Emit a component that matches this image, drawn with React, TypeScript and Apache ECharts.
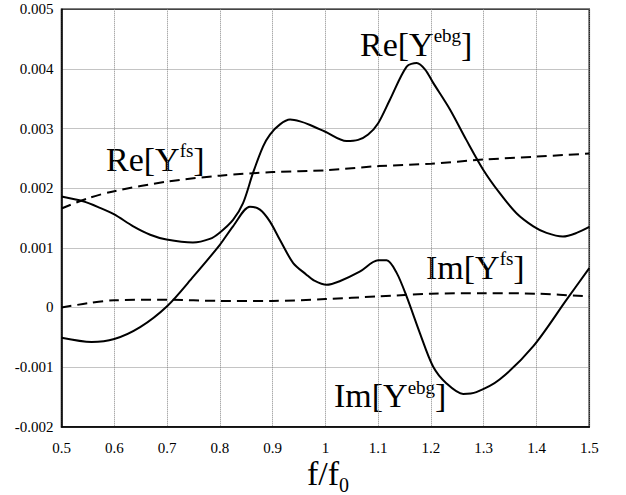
import React, { useEffect, useRef } from "react";
import * as echarts from "echarts";

// x positions (f/f0) and values for each curve
const reEbgX = [0.5, 0.541, 0.573, 0.6, 0.636, 0.668, 0.699, 0.749, 0.781, 0.799, 0.825, 0.844, 0.863, 0.882, 0.895, 0.914, 0.933, 0.952, 0.971, 0.999, 1.04, 1.062, 1.081, 1.1, 1.122, 1.154, 1.173, 1.189, 1.204, 1.236, 1.267, 1.299, 1.33, 1.362, 1.394, 1.419, 1.45, 1.476, 1.5];
const reEbgY = [0.00186, 0.00178, 0.00167, 0.00156, 0.00136, 0.00122, 0.00114, 0.00109, 0.00115, 0.00125, 0.00147, 0.00175, 0.00226, 0.0027, 0.0029, 0.00307, 0.00315, 0.00312, 0.00306, 0.00295, 0.00279, 0.00281, 0.0029, 0.00309, 0.00348, 0.00404, 0.0041, 0.00399, 0.00377, 0.00332, 0.00281, 0.00231, 0.00192, 0.00158, 0.00136, 0.00125, 0.00119, 0.00125, 0.00135];

const imEbgX = [0.5, 0.557, 0.6, 0.649, 0.7, 0.75, 0.8, 0.825, 0.857, 0.876, 0.895, 0.914, 0.939, 0.964, 0.977, 1.002, 1.027, 1.065, 1.1, 1.116, 1.135, 1.154, 1.179, 1.204, 1.229, 1.261, 1.286, 1.33, 1.394, 1.457, 1.5];
const imEbgY = [-0.00051, -0.00058, -0.00053, -0.00033, 0.00002, 0.00052, 0.00105, 0.00136, 0.00169, 0.00164, 0.00144, 0.00113, 0.000745, 0.00055, 0.00046, 0.00038, 0.00044, 0.0006, 0.00079, 0.00079, 0.00058, 0.00018, -0.00043, -0.00099, -0.00127, -0.00145, -0.00142, -0.00121, -0.00065, 0.00013, 0.00066];

const reFsX = [0.5, 0.55, 0.6, 0.7, 0.8, 0.9, 1.0, 1.1, 1.2, 1.3, 1.4, 1.5];
const reFsY = [0.00166, 0.00183, 0.00195, 0.00211, 0.00221, 0.00227, 0.0023, 0.00237, 0.00241, 0.00248, 0.00253, 0.00258];

const imFsX = [0.5, 0.55, 0.6, 0.7, 0.8, 0.9, 1.0, 1.1, 1.2, 1.3, 1.4, 1.5];
const imFsY = [0.0, 0.00007, 0.00012, 0.00013, 0.00011, 0.00011, 0.00014, 0.000185, 0.00023, 0.00024, 0.00023, 0.000185];

const SERIF = '"Liberation Serif", "Times New Roman", serif';

function pairs(xs: number[], ys: number[]) {
  return xs.map((x, i) => [x, ys[i]]);
}

function label(x: number, y: number, main: string, sup: string) {
  return {
    type: "text",
    x,
    y,
    silent: true,
    style: {
      text: `{m|${main}}{s|${sup}}{m|]}`,
      align: "left",
      verticalAlign: "top",
      textAlign: "left",
      textVerticalAlign: "top",
      rich: {
        m: { fontSize: 34, fontFamily: SERIF, fill: "#000", lineHeight: 36, verticalAlign: "middle" },
        s: { fontSize: 19, fontFamily: SERIF, fill: "#000", lineHeight: 25, verticalAlign: "top" },
      },
    },
  };
}

function plain(x: number, y: number, text: string, size: number, align: string, lh: number) {
  return {
    type: "text",
    x,
    y,
    silent: true,
    style: {
      text,
      fontSize: size,
      fontFamily: SERIF,
      fill: "#000",
      lineHeight: lh,
      align,
      textAlign: align,
      verticalAlign: "middle",
      textVerticalAlign: "middle",
    },
  };
}

export default function App() {
  const ref = useRef<HTMLDivElement>(null);
  useEffect(() => {
    if (!ref.current) return;
    const chart = echarts.init(ref.current, null, { renderer: "svg" });
    const solid = { color: "#000", width: 2, type: "solid" };
    const dashed = { color: "#000", width: 2, type: [10, 6] };
    chart.setOption({
      animation: false,
      backgroundColor: "#fff",
      grid: {
        left: 61.5,
        right: 36.7,
        top: 9.3,
        bottom: 68.3,
        show: true,
        borderColor: "#000",
        borderWidth: 1.5,
        backgroundColor: "transparent",
      },
      xAxis: {
        type: "value",
        min: 0.5,
        max: 1.5,
        interval: 0.1,
        axisLine: { show: true, onZero: false, lineStyle: { color: "#000", width: 1.5 } },
        axisTick: { show: false },
        splitLine: { show: true, lineStyle: { color: "#888", type: "dotted", width: 1 } },
        axisLabel: {
          color: "#000",
          fontSize: 15,
          fontFamily: SERIF,
          margin: 14,
          formatter: (v: number) => String(Number(v.toFixed(1))),
        },
      },
      yAxis: {
        type: "value",
        min: -0.002,
        max: 0.005,
        interval: 0.001,
        axisLine: { show: true, onZero: false, lineStyle: { color: "#000", width: 1.5 } },
        axisTick: { show: false },
        splitLine: { show: true, lineStyle: { color: "#888", type: "dotted", width: 1 } },
        axisLabel: {
          color: "#000",
          fontSize: 15,
          fontFamily: SERIF,
          margin: 8,
          formatter: (v: number) => (Math.abs(v) < 1e-9 ? "0" : v.toFixed(3)),
        },
      },
      series: [
        { name: "Re[Yebg]", type: "line", data: pairs(reEbgX, reEbgY), showSymbol: false, smooth: 0.3, lineStyle: solid },
        { name: "Im[Yebg]", type: "line", data: pairs(imEbgX, imEbgY), showSymbol: false, smooth: 0.3, lineStyle: solid },
        { name: "Re[Yfs]", type: "line", data: pairs(reFsX, reFsY), showSymbol: false, smooth: 0.3, lineStyle: dashed },
        { name: "Im[Yfs]", type: "line", data: pairs(imFsX, imFsY), showSymbol: false, smooth: 0.3, lineStyle: dashed },
      ],
      graphic: [
        label(106, 141, "Re[Y", "fs"),
        label(360, 26, "Re[Y", "ebg"),
        label(426, 249.4, "Im[Y", "fs"),
        label(334, 377.7, "Im[Y", "ebg"),
        plain(339, 473.5, "f/f", 34, "right", 26),
        plain(339, 485, "0", 20, "left", 16),
      ],
    });
    return () => chart.dispose();
  }, []);
  return <div ref={ref} style={{ width: 626, height: 495, position: "absolute", left: 0, top: 0 }} />;
}
